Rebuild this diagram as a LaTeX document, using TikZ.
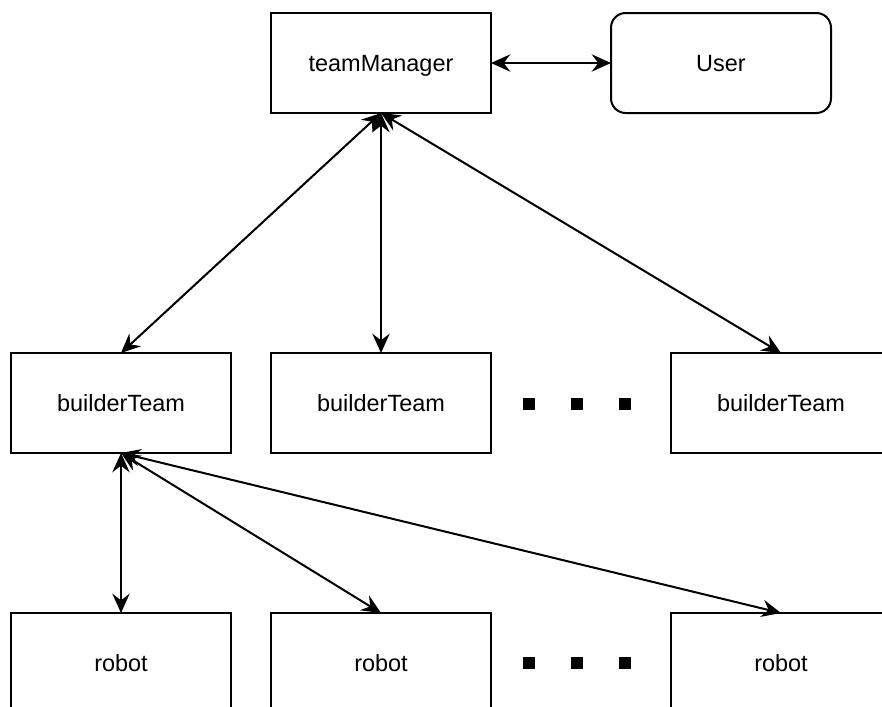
\documentclass[tikz,border=0pt]{standalone}
\usepackage{fontspec}
\setmainfont{Liberation Sans}
\usetikzlibrary{arrows.meta}
\begin{document}
\begin{tikzpicture}[x=0.75pt,y=-0.75pt,
  box/.style={draw, line width=1.5pt, minimum width=165pt, minimum height=75pt,
    outer sep=0pt, inner sep=0pt, text height=12.6pt, text depth=0pt,
    font=\fontsize{17.6}{20}\selectfont},
  tip/.tip={Stealth[length=14.5pt,width=13pt,inset=5pt]},
  link/.style={line width=1.5pt, tip-tip},
  sq/.style={fill=black, minimum size=9pt, inner sep=0pt, outer sep=0pt}]
\useasboundingbox (0,0) rectangle (882,707);
\clip (0,0) rectangle (882,707);

% top level
\node[box] (tm) at (381,63) {teamManager};
\node[box, rounded corners=11pt] (user) at (721,63) {User};

% builder teams
\node[box] (b1) at (121,403) {builderTeam};
\node[box] (b2) at (381,403) {builderTeam};
\node[box] (b3) at (781,403) {builderTeam};

% robots
\node[box] (r1) at (121,663) {robot};
\node[box] (r2) at (381,663) {robot};
\node[box] (r3) at (781,663) {robot};

% ellipsis markers
\node[sq] (d1) at (529,404) {};
\node[sq] (d2) at (577,404) {};
\node[sq] (d3) at (625,404) {};
\node[sq] (e1) at (529,663) {};
\node[sq] (e2) at (577,663) {};
\node[sq] (e3) at (625,663) {};

% connections
\draw[link] (tm.east) -- (user.west);
\draw[link] (tm.south) -- (b1.north);
\draw[link] (tm.south) -- (b2.north);
\draw[link] (tm.south) -- (b3.north);
\draw[link] (b1.south) -- (r1.north);
\draw[link] (b1.south) -- (r2.north);
\draw[link] (b1.south) -- (r3.north);
\end{tikzpicture}
\end{document}
